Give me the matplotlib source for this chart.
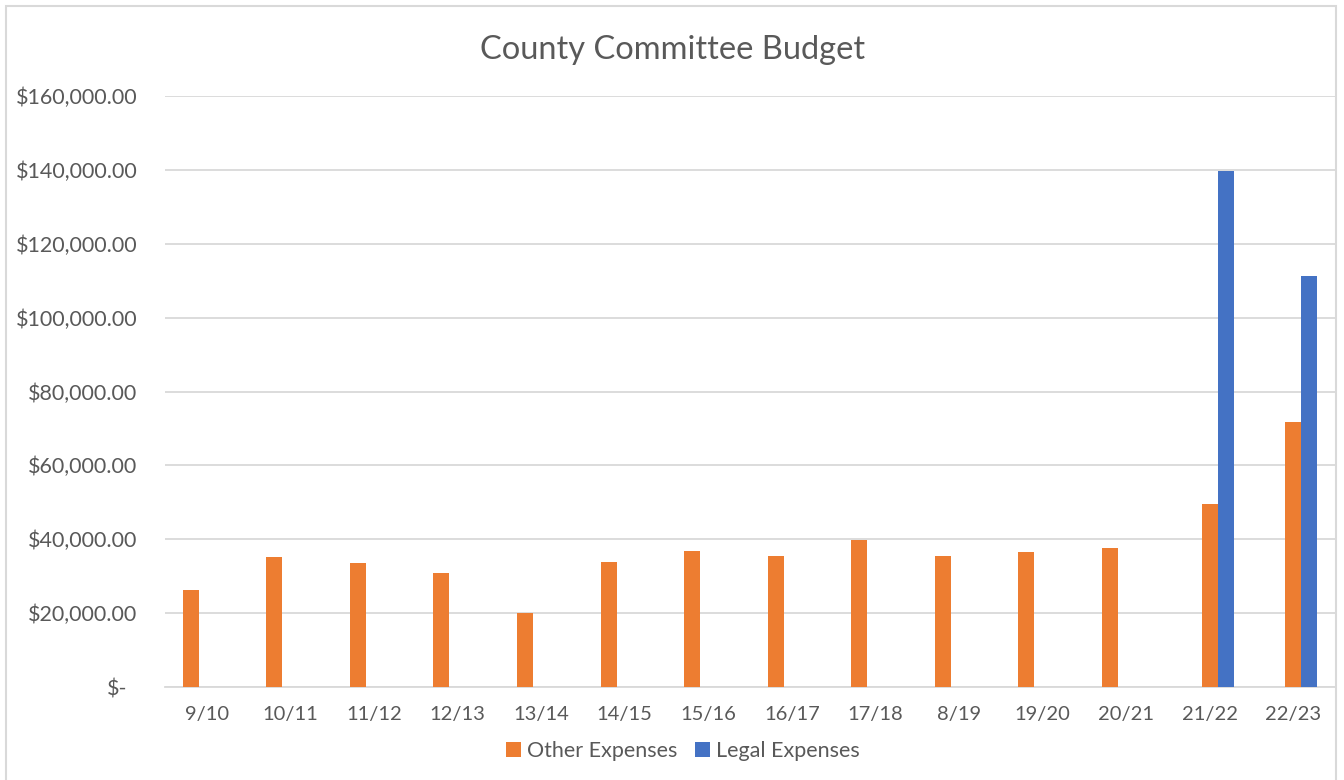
import matplotlib
matplotlib.use("Agg")
import matplotlib.pyplot as plt
import matplotlib.transforms as mtransforms
from matplotlib.patches import Rectangle, Patch
from matplotlib.ticker import FuncFormatter, MultipleLocator
import numpy as np

# ---------------- data ----------------
categories = ["9/10", "10/11", "11/12", "12/13", "13/14", "14/15", "15/16",
              "16/17", "17/18", "8/19", "19/20", "20/21", "21/22", "22/23"]
# Excel source used a separate (orange) series for the earlier years, which sits in the
# left slot of each cluster; the last two years sit in the middle slot next to legal.
other_expenses_early = [26250, 35200, 33550, 30850, 20000, 33850, 36750,
                        35450, 39750, 35450, 36450, 37750, 0, 0]
other_expenses_recent = [0, 0, 0, 0, 0, 0, 0, 0, 0, 0, 0, 0, 49550, 71650]
legal_expenses = [0, 0, 0, 0, 0, 0, 0, 0, 0, 0, 0, 0, 139800, 111250]
series_names = ["Other Expenses", "Legal Expenses"]
title = "County Committee Budget"

# ---------------- style ----------------
ORANGE = "#ED7D31"
BLUE = "#4472C4"
TXT = "#595959"
GRID = "#D9D9D9"
FONT = ["Lato", "DejaVu Sans"]
plt.rcParams["font.family"] = FONT

W, H = 1344, 780
fig = plt.figure(figsize=(W / 100, H / 100), dpi=100)
fig.patch.set_facecolor("white")

# chart outer border
fig.patches.append(Rectangle((6 / W, -0.01), (1336 - 6) / W, (H - 6) / H + 0.01,
                             transform=fig.transFigure, fill=False,
                             edgecolor="#D9D9D9", linewidth=1.5))

ax = fig.add_axes([165 / W, (H - 687) / H, (1335 - 165) / W, (687 - 96) / H])
x = np.arange(len(categories))
bw = 16 / 83.57

ax.bar(x - bw, other_expenses_early, width=bw, color=ORANGE, zorder=3)
ax.bar(x, other_expenses_recent, width=bw, color=ORANGE, zorder=3)
ax.bar(x + bw, legal_expenses, width=bw, color=BLUE, zorder=3)

ax.set_xlim(-0.5, len(categories) - 0.5)
ax.set_ylim(0, 160000)
ax.yaxis.set_major_locator(MultipleLocator(20000))


def fmt(v, pos):
    if v == 0:
        return "$-"
    return "${:,.2f}".format(v)


ax.yaxis.set_major_formatter(FuncFormatter(fmt))
ax.set_xticks(x)
ax.set_xticklabels(categories)

ax.grid(axis="y", color=GRID, linewidth=1.3, zorder=0)
ax.set_axisbelow(True)
for s in ["top", "right", "left"]:
    ax.spines[s].set_visible(False)
ax.spines["bottom"].set_color(GRID)
ax.spines["bottom"].set_linewidth(1.3)
ax.tick_params(axis="both", length=0, labelcolor=TXT)
ax.tick_params(axis="y", pad=20, labelsize=15.5)
ax.tick_params(axis="x", pad=14, labelsize=14.5)

fig.canvas.draw()
# accounting-style zero label sits left of the others
for t in ax.yaxis.get_major_ticks():
    if t.label1.get_text() == "$-":
        t.label1.set_transform(t.label1.get_transform() +
                               mtransforms.ScaledTranslation(-10 / 100, 0, fig.dpi_scale_trans))

fig.text(673 / W, 1 - 50 / H, title, ha="center", va="center",
         fontsize=23.5, color=TXT)

handles = [Patch(facecolor=ORANGE), Patch(facecolor=BLUE)]
leg = fig.legend(handles, series_names, loc="center", bbox_to_anchor=(683 / W, 1 - 751 / H),
                 ncol=2, frameon=False, fontsize=15.5, labelcolor=TXT,
                 handlelength=0.7, handleheight=0.7, handletextpad=0.3,
                 columnspacing=0.8)

fig.savefig("out.png", dpi=100, facecolor="white")
